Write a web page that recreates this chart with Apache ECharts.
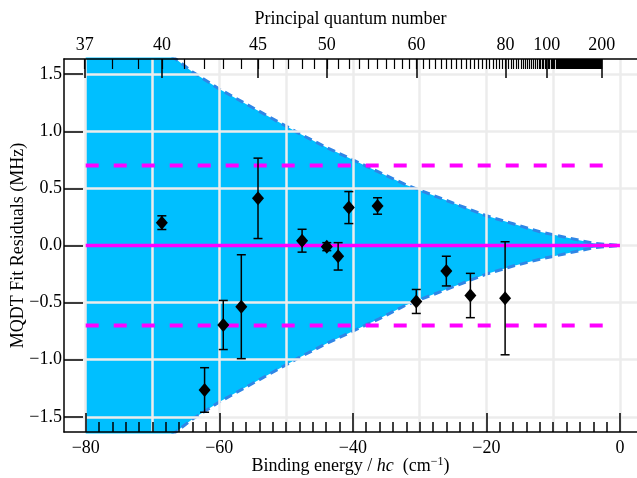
<!DOCTYPE html>
<html>
<head>
<meta charset="utf-8">
<script src="https://cdn.jsdelivr.net/npm/echarts@6/dist/echarts.min.js"></script>
<style>
  html, body { margin: 0; padding: 0; background: #fff; }
  #chart { width: 637px; height: 478px; }
</style>
</head>
<body>
<div id="chart"></div>
<script>
// measured levels: binding energy (cm^-1), fit residual and its error (MHz)
var energies  = [-68.6, -62.2, -59.4, -56.7, -54.2, -47.6, -43.9, -42.2, -40.6, -36.3, -30.5, -26.0, -22.4, -17.2];
var residuals = [0.20, -1.265, -0.696, -0.536, 0.413, 0.042, -0.01, -0.095, 0.332, 0.346, -0.49, -0.224, -0.438, -0.462];
var errors    = [0.06, 0.195, 0.215, 0.455, 0.352, 0.10, 0.035, 0.12, 0.14, 0.072, 0.105, 0.13, 0.194, 0.495];

// blue band edges
var bandX     = [-80, -76, -72, -68, -64, -60, -56, -52, -48, -44, -40, -36, -32, -28, -24, -20, -16, -12, -8, -4, 0];
var bandUpper = [2.18, 2.02, 1.86, 1.70, 1.52, 1.37, 1.24, 1.11, 0.98, 0.86, 0.75, 0.64, 0.53, 0.44, 0.35, 0.26, 0.19, 0.12, 0.07, 0.02, 0];
var bandLower = [-2.18, -2.02, -1.86, -1.70, -1.52, -1.37, -1.24, -1.11, -0.98, -0.86, -0.75, -0.64, -0.52, -0.43, -0.34, -0.25, -0.18, -0.12, -0.07, -0.02, 0];

var zeroLine = [[-80, 0], [0, 0]];
var limitLevel = 0.7;
var limitRange = [-80, -2];

// axes
var xTicks = [-80, -60, -40, -20, 0];
var xGrid = [-80, -70, -60, -50, -40, -30, -20, -10, 0];
var yTicks = [-1.5, -1.0, -0.5, 0, 0.5, 1.0, 1.5];
var nLabels = [37, 40, 45, 50, 60, 80, 100, 200];
var RYD = 109737;

var X_MIN = -83.25, X_MAX = 2.55, Y_MIN = -1.633, Y_MAX = 1.633;
var font = 'Liberation Serif';

function nToE(n) { return -RYD / (n * n); }
function minus(s) { return String(s).replace('-', '\u2212'); }

var xMinor = [];
for (var v = -78; v < 0; v += 2) if (v % 20 !== 0) xMinor.push(v);
var nAll = [];
for (var n = 37; n <= 200; n++) nAll.push(nToE(n));
var nMajor = nLabels.map(nToE);

function axis(extra) {
  return Object.assign({
    type: 'value', min: X_MIN, max: X_MAX,
    axisLine: { show: false, onZero: false },
    axisTick: { show: false },
    axisLabel: { show: false },
    splitLine: { show: false }
  }, extra);
}
var tickLine = { color: '#000', width: 1.5 };
var gridLine = { color: '#ececec', width: 2.5 };

var chart = echarts.init(document.getElementById('chart'));
chart.setOption({
  animation: false,
  grid: { left: 64, right: 0, top: 59, bottom: 46, containLabel: false, outerBoundsMode: 'none' },
  xAxis: [
    axis({
      position: 'bottom', z: 6,
      axisLine: { show: true, onZero: false, lineStyle: tickLine },
      axisTick: { show: true, inside: true, length: 19, customValues: xTicks, lineStyle: tickLine },
      axisLabel: { show: true, customValues: xTicks, margin: 7, color: '#000', fontFamily: font, fontSize: 18,
        formatter: function (v) { return minus(v); } },
      name: '{a|Binding energy / }{i|hc}{a|  (cm}{s|\u22121}{a|)}',
      nameLocation: 'middle', nameGap: 24, nameMoveOverlap: false,
      nameTextStyle: {
        color: '#000', fontFamily: font, fontSize: 18,
        rich: {
          a: { color: '#000', fontFamily: font, fontSize: 18 },
          i: { color: '#000', fontFamily: font, fontSize: 18, fontStyle: 'italic' },
          s: { color: '#000', fontFamily: font, fontSize: 12, padding: [0, 0, 9, 0] }
        }
      }
    }),
    axis({
      position: 'bottom', z: 6,
      axisTick: { show: true, inside: true, length: 10, customValues: xMinor, lineStyle: tickLine }
    }),
    axis({
      position: 'bottom', z: 2,
      axisTick: { show: false, customValues: xGrid },
      splitLine: { show: true, lineStyle: gridLine }
    }),
    axis({
      position: 'top', z: 6,
      axisLine: { show: true, onZero: false, lineStyle: tickLine },
      axisTick: { show: true, inside: true, length: 19, customValues: nMajor, lineStyle: tickLine },
      axisLabel: { show: true, customValues: nMajor, margin: 5, color: '#000', fontFamily: font, fontSize: 18,
        formatter: function (v) { return String(Math.round(Math.sqrt(-RYD / v))); } },
      name: 'Principal quantum number',
      nameLocation: 'middle', nameGap: 31, nameMoveOverlap: false,
      nameTextStyle: { color: '#000', fontFamily: font, fontSize: 18 }
    }),
    axis({
      position: 'top', z: 6,
      axisTick: { show: true, inside: true, length: 10, customValues: nAll, lineStyle: { color: '#000', width: 1.2 } }
    })
  ],
  yAxis: [
    {
      type: 'value', min: Y_MIN, max: Y_MAX, position: 'left', z: 6,
      axisLine: { show: true, onZero: false, lineStyle: tickLine },
      axisTick: { show: true, inside: true, length: 19, customValues: yTicks, lineStyle: tickLine },
      axisLabel: { show: true, customValues: yTicks, margin: 2, color: '#000', fontFamily: font, fontSize: 18,
        formatter: function (v) { return minus(v.toFixed(1)); } },
      splitLine: { show: false },
      name: 'MQDT Fit Residuals (MHz)',
      nameLocation: 'middle', nameGap: 37, nameMoveOverlap: false,
      nameTextStyle: { color: '#000', fontFamily: font, fontSize: 18 }
    },
    {
      type: 'value', min: Y_MIN, max: Y_MAX, position: 'left', z: 2,
      axisLine: { show: false, onZero: false },
      axisTick: { show: false, customValues: yTicks },
      axisLabel: { show: false },
      splitLine: { show: true, lineStyle: gridLine }
    }
  ],
  series: [
    {
      type: 'line', z: 1, symbol: 'none', silent: true,
      data: bandX.map(function (x, i) { return [x, bandUpper[i]]; }),
      lineStyle: { color: '#2f86e6', width: 3, type: [8, 5] },
      areaStyle: { color: '#00bfff', opacity: 1 }
    },
    {
      type: 'line', z: 1, symbol: 'none', silent: true,
      data: bandX.map(function (x, i) { return [x, bandLower[i]]; }),
      lineStyle: { color: '#2f86e6', width: 3, type: [8, 5] },
      areaStyle: { color: '#00bfff', opacity: 1 }
    },
    {
      type: 'line', z: 3, symbol: 'none', silent: true,
      data: zeroLine,
      lineStyle: { color: '#ff00ff', width: 3.5 }
    },
    {
      type: 'line', z: 3, symbol: 'none', silent: true,
      data: limitRange.map(function (x) { return [x, limitLevel]; }),
      lineStyle: { color: '#ff00ff', width: 4, type: [13, 15] }
    },
    {
      type: 'line', z: 3, symbol: 'none', silent: true,
      data: limitRange.map(function (x) { return [x, -limitLevel]; }),
      lineStyle: { color: '#ff00ff', width: 4, type: [13, 15] }
    },
    {
      type: 'custom', z: 4,
      data: energies.map(function (x, i) { return [x, residuals[i], errors[i]]; }),
      encode: { x: 0, y: 1 },
      renderItem: function (params, api) {
        var x = api.value(0), y = api.value(1), e = api.value(2);
        var top = api.coord([x, y + e]), bot = api.coord([x, y - e]);
        var w = 4.5, st = { stroke: '#000', lineWidth: 1.5 };
        return {
          type: 'group',
          children: [
            { type: 'line', shape: { x1: top[0], y1: top[1], x2: bot[0], y2: bot[1] }, style: st },
            { type: 'line', shape: { x1: top[0] - w, y1: top[1], x2: top[0] + w, y2: top[1] }, style: st },
            { type: 'line', shape: { x1: bot[0] - w, y1: bot[1], x2: bot[0] + w, y2: bot[1] }, style: st }
          ]
        };
      }
    },
    {
      type: 'scatter', z: 5,
      symbol: 'diamond', symbolSize: [12, 14],
      itemStyle: { color: '#000', opacity: 1 },
      data: energies.map(function (x, i) { return [x, residuals[i]]; })
    }
  ]
});
</script>
</body>
</html>
